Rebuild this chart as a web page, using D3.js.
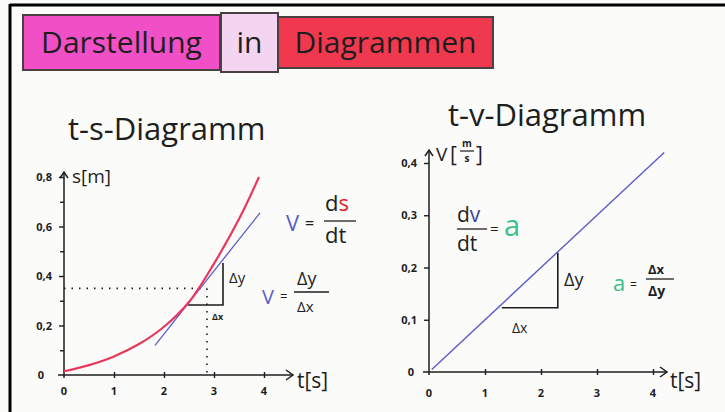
<!DOCTYPE html>
<html>
<head>
<meta charset="utf-8">
<title>Darstellung in Diagrammen</title>
<script src="https://d3js.org/d3.v7.min.js"></script>
<style>
  html, body { margin: 0; padding: 0; background: #fbfbfa; }
  svg text { font-family: 'Open Sans', 'DejaVu Sans', sans-serif; fill: #1e1e1e; }
  .axis path { display: none; }
  .axis line { stroke: #1e1e1e; stroke-width: 1.4; }
  .axis text { font-size: 11px; font-weight: bold; }
</style>
</head>
<body>
<svg id="chart"></svg>
<script>
// ---- data ----
// t-s diagram
var sTimes   = [0, 0.5, 1, 1.5, 2, 2.5, 3, 3.5, 3.9];
var sValues  = [0.015, 0.04, 0.075, 0.125, 0.195, 0.295, 0.45, 0.63, 0.8];
var tangentT = [1.82, 3.92];
var tangentS = [0.12, 0.655];
var guideT = 2.86, guideS = 0.35;
var sTriT = [2.48, 3.18];
var sTriS = [0.283, 0.453];
var sTicks = [0, 0.2, 0.4, 0.6, 0.8];
var sMinor = [0.1, 0.3, 0.5, 0.7];

// t-v diagram
var vTimes  = [0.05, 4.2];
var vValues = [0.005, 0.42];
var vTriT = [1.3, 2.3];
var vTriV = [0.123, 0.228];
var vTicks = [0, 0.1, 0.2, 0.3, 0.4];

var tTicks = [0, 1, 2, 3, 4];

var width = 725, height = 412;
var svg = d3.select("#chart").attr("width", width).attr("height", height);

var ink = "#1e1e1e", red = "#e8385e", blue = "#5c5cc8", green = "#3cc08a";
var comma = function(d) { return d === 0 ? "0" : String(d).replace(".", ","); };

// frame
svg.append("line").attr("x1", 10).attr("y1", 5).attr("x2", 725).attr("y2", 5)
  .attr("stroke", "#000").attr("stroke-width", 3);
svg.append("line").attr("x1", 10).attr("y1", 4).attr("x2", 10).attr("y2", 412)
  .attr("stroke", "#000").attr("stroke-width", 3);

// title boxes
var boxes = [
  {x: 23, y: 15, w: 197, h: 55, fill: "#f04fc6", text: "Darstellung"},
  {x: 221, y: 13, w: 57, h: 59, fill: "#f3d5f2", text: "in"},
  {x: 278, y: 17, w: 215, h: 51, fill: "#f0394f", text: "Diagrammen"}
];
var tb = svg.append("g");
tb.selectAll("rect").data(boxes).enter().append("rect")
  .attr("x", function(d) { return d.x; }).attr("y", function(d) { return d.y; })
  .attr("width", function(d) { return d.w; }).attr("height", function(d) { return d.h; })
  .attr("fill", function(d) { return d.fill; })
  .attr("stroke", "#4a4040").attr("stroke-width", 2);
tb.selectAll("text").data(boxes).enter().append("text")
  .attr("x", function(d) { return d.x + d.w / 2; }).attr("y", function(d) { return d.y + d.h / 2 + 10; })
  .attr("text-anchor", "middle").attr("font-size", 30)
  .text(function(d) { return d.text; });

// helper: axes with arrow heads
function drawAxes(g, x, y, xEnd, yTop, yTicks, yMinor, yLabelX, xLabelY) {
  var ax = g.append("g").attr("class", "axis").attr("transform", "translate(0," + y(0) + ")")
    .call(d3.axisBottom(x).tickValues(tTicks.slice(1)).tickSize(3).tickFormat(""));
  ax.selectAll(".tick line").attr("y1", -3).attr("y2", 3);
  g.selectAll(".tlab").data(tTicks).enter().append("text")
    .attr("x", function(d) { return x(d); }).attr("y", xLabelY)
    .attr("text-anchor", "middle").attr("font-size", 11).attr("font-weight", "bold")
    .text(function(d) { return d; });

  g.append("g").attr("class", "axis").attr("transform", "translate(" + x(0) + ",0)")
    .call(d3.axisLeft(y).tickValues(yTicks.slice(1)).tickSize(5).tickPadding(7).tickFormat(comma));
  if (yMinor) {
    g.append("g").attr("class", "axis").attr("transform", "translate(" + x(0) + ",0)")
      .call(d3.axisLeft(y).tickValues(yMinor).tickSize(4).tickFormat(""));
  }
  g.append("text").attr("x", yLabelX).attr("y", y(0) + 4).attr("text-anchor", "end")
    .attr("font-size", 11).attr("font-weight", "bold").text("0");

  // axis lines
  g.append("line").attr("x1", x(0) - 6).attr("y1", y(0)).attr("x2", xEnd).attr("y2", y(0))
    .attr("stroke", ink).attr("stroke-width", 1.5);
  g.append("line").attr("x1", x(0)).attr("y1", y(0) + 3).attr("x2", x(0)).attr("y2", yTop)
    .attr("stroke", ink).attr("stroke-width", 1.5);
  g.append("path").attr("d", "M" + (xEnd - 7) + "," + (y(0) - 5) + "L" + xEnd + "," + y(0) + "L" + (xEnd - 7) + "," + (y(0) + 5))
    .attr("fill", "none").attr("stroke", ink).attr("stroke-width", 1.5);
  g.append("path").attr("d", "M" + (x(0) - 4) + "," + (yTop + 6) + "L" + x(0) + "," + yTop + "L" + (x(0) + 4) + "," + (yTop + 6))
    .attr("fill", "none").attr("stroke", ink).attr("stroke-width", 1.5);
}

function triangle(g, x, y, tt, vv) {
  g.append("path")
    .attr("d", "M" + x(tt[0]) + "," + y(vv[0]) + "L" + x(tt[1]) + "," + y(vv[0]) + "L" + x(tt[1]) + "," + y(vv[1]))
    .attr("fill", "none").attr("stroke", ink).attr("stroke-width", 1.6);
}

// ================= t-s-Diagramm =================
var xS = d3.scaleLinear().domain([0, 4]).range([64, 264]);
var yS = d3.scaleLinear().domain([0, 0.8]).range([375, 177]);
var gS = svg.append("g");

gS.append("text").attr("x", 68).attr("y", 140).attr("font-size", 31).text("t-s-Diagramm");

drawAxes(gS, xS, yS, 293, 172, sTicks, sMinor, 44, 395);
gS.append("text").attr("x", 297).attr("y", 388).attr("font-size", 21).text("t[s]");
gS.append("text").attr("x", 72).attr("y", 183).attr("font-size", 19).text("s[m]");

// dotted guides
gS.append("line").attr("x1", xS(0)).attr("y1", yS(guideS)).attr("x2", xS(guideT)).attr("y2", yS(guideS))
  .attr("stroke", ink).attr("stroke-width", 1.6).attr("stroke-dasharray", "1.5,6");
gS.append("line").attr("x1", xS(guideT)).attr("y1", yS(guideS)).attr("x2", xS(guideT)).attr("y2", yS(0))
  .attr("stroke", ink).attr("stroke-width", 1.6).attr("stroke-dasharray", "1.5,6");

triangle(gS, xS, yS, sTriT, sTriS);

gS.append("path").datum(d3.zip(tangentT, tangentS))
  .attr("d", d3.line().x(function(d) { return xS(d[0]); }).y(function(d) { return yS(d[1]); }))
  .attr("fill", "none").attr("stroke", blue).attr("stroke-width", 1.3);

gS.append("path").datum(d3.zip(sTimes, sValues))
  .attr("d", d3.line().x(function(d) { return xS(d[0]); }).y(function(d) { return yS(d[1]); }).curve(d3.curveCatmullRom))
  .attr("fill", "none").attr("stroke", red).attr("stroke-width", 2.2);

gS.append("text").attr("x", 229).attr("y", 283).attr("font-size", 15).text("Δy");
gS.append("text").attr("x", 212).attr("y", 320).attr("font-size", 9).attr("font-weight", "bold").text("Δx");

// v = ds/dt
gS.append("text").attr("x", 286).attr("y", 231).attr("font-size", 22).style("fill", blue).text("V");
gS.append("text").attr("x", 305).attr("y", 229).attr("font-size", 16).text("=");
var ds = gS.append("text").attr("x", 325).attr("y", 211).attr("font-size", 22);
ds.append("tspan").text("d");
ds.append("tspan").style("fill", "#e02030").text("s");
gS.append("line").attr("x1", 324).attr("y1", 221).attr("x2", 356).attr("y2", 221).attr("stroke", ink).attr("stroke-width", 1.3);
gS.append("text").attr("x", 325).attr("y", 243).attr("font-size", 22).text("dt");

// v = Δy/Δx
gS.append("text").attr("x", 262).attr("y", 304).attr("font-size", 20).style("fill", blue).text("V");
gS.append("text").attr("x", 280).attr("y", 301).attr("font-size", 13).text("=");
gS.append("text").attr("x", 297).attr("y", 285).attr("font-size", 18).text("Δy");
gS.append("line").attr("x1", 294).attr("y1", 292).attr("x2", 329).attr("y2", 292).attr("stroke", ink).attr("stroke-width", 1.3);
gS.append("text").attr("x", 297).attr("y", 312).attr("font-size", 15).text("Δx");

// ================= t-v-Diagramm =================
var xV = d3.scaleLinear().domain([0, 4]).range([429, 653]);
var yV = d3.scaleLinear().domain([0, 0.4]).range([372, 163]);
var gV = svg.append("g");

gV.append("text").attr("x", 448).attr("y", 126).attr("font-size", 31).text("t-v-Diagramm");

drawAxes(gV, xV, yV, 667, 150, vTicks, null, 414, 397);
gV.append("text").attr("x", 670).attr("y", 388).attr("font-size", 21).text("t[s]");

// v [m/s]
gV.append("text").attr("x", 436).attr("y", 161).attr("font-size", 19).text("V");
gV.append("text").attr("x", 450).attr("y", 162).attr("font-size", 21).text("[");
gV.append("text").attr("x", 467).attr("y", 147).attr("font-size", 10).attr("font-weight", "bold").attr("text-anchor", "middle").text("m");
gV.append("line").attr("x1", 460).attr("y1", 151).attr("x2", 474).attr("y2", 151).attr("stroke", ink).attr("stroke-width", 1.2);
gV.append("text").attr("x", 467).attr("y", 162).attr("font-size", 10).attr("font-weight", "bold").attr("text-anchor", "middle").text("s");
gV.append("text").attr("x", 476).attr("y", 162).attr("font-size", 21).text("]");

triangle(gV, xV, yV, vTriT, vTriV);

gV.append("path").datum(d3.zip(vTimes, vValues))
  .attr("d", d3.line().x(function(d) { return xV(d[0]); }).y(function(d) { return yV(d[1]); }))
  .attr("fill", "none").attr("stroke", blue).attr("stroke-width", 1.4);

gV.append("text").attr("x", 564).attr("y", 286).attr("font-size", 18).text("Δy");
gV.append("text").attr("x", 512).attr("y", 333).attr("font-size", 14).text("Δx");

// dv/dt = a
var dv = gV.append("text").attr("x", 457).attr("y", 222).attr("font-size", 21);
dv.append("tspan").text("d");
dv.append("tspan").style("fill", "#4040a0").text("v");
gV.append("line").attr("x1", 457).attr("y1", 229).attr("x2", 487).attr("y2", 229).attr("stroke", ink).attr("stroke-width", 1.3);
gV.append("text").attr("x", 457).attr("y", 251).attr("font-size", 21).text("dt");
gV.append("text").attr("x", 490).attr("y", 234).attr("font-size", 15).text("=");
gV.append("text").attr("x", 504).attr("y", 236).attr("font-size", 29).style("fill", green).text("a");

// a = Δx/Δy
gV.append("text").attr("x", 613).attr("y", 291).attr("font-size", 22).style("fill", green).text("a");
gV.append("text").attr("x", 630).attr("y", 289).attr("font-size", 12).text("=");
gV.append("text").attr("x", 648).attr("y", 274).attr("font-size", 13).attr("font-weight", "bold").text("Δx");
gV.append("line").attr("x1", 646).attr("y1", 279).attr("x2", 674).attr("y2", 279).attr("stroke", ink).attr("stroke-width", 1.3);
gV.append("text").attr("x", 648).attr("y", 296).attr("font-size", 14).attr("font-weight", "bold").text("Δy");
</script>
</body>
</html>
